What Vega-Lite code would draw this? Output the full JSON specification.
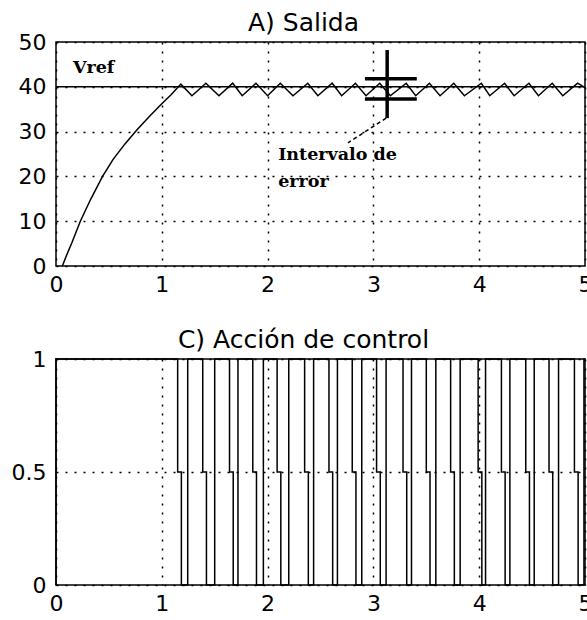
{
  "$schema": "https://vega.github.io/schema/vega-lite/v6.json",
  "background": "white",
  "padding": {"left": 0, "top": 10, "right": 0, "bottom": 0},
  "spacing": 31,
  "config": {
    "view": {"stroke": "black", "strokeWidth": 1.5},
    "axis": {"grid": true, "gridColor": "black", "gridDash": [2, 7], "gridWidth": 1.5, "gridOpacity": 1, "domain": false, "ticks": false, "labelFont": "DejaVu Sans", "labelFontSize": 22, "labelColor": "black", "title": null, "labelExpr": "'' + datum.value"},
    "axisY": {"labelPadding": 10, "minExtent": 55, "maxExtent": 55},
    "axisX": {"labelPadding": 8, "labelFlush": false},
    "title": {"font": "DejaVu Sans", "fontSize": 25, "fontWeight": "normal", "color": "black", "baseline": "alphabetic", "offset": -5, "dx": -17}
  },
  "datasets": {
    "curve": [
      {"t": 0.06, "v": 0}, {"t": 0.1, "v": 2.4}, {"t": 0.15, "v": 5.2}, {"t": 0.23, "v": 10}, {"t": 0.33, "v": 15},
      {"t": 0.44, "v": 20}, {"t": 0.54, "v": 23.8}, {"t": 0.65, "v": 27.2}, {"t": 0.77, "v": 30.5}, {"t": 0.88, "v": 33.3},
      {"t": 1.0, "v": 36.2}, {"t": 1.09, "v": 38.3}, {"t": 1.18, "v": 40.6},
      {"t": 1.285, "v": 38}, {"t": 1.417, "v": 40.8},
      {"t": 1.54, "v": 38}, {"t": 1.67, "v": 40.8},
      {"t": 1.76, "v": 38}, {"t": 1.89, "v": 40.8},
      {"t": 2.0, "v": 38}, {"t": 2.12, "v": 40.8},
      {"t": 2.24, "v": 38}, {"t": 2.38, "v": 40.8},
      {"t": 2.475, "v": 38}, {"t": 2.61, "v": 40.8},
      {"t": 2.7, "v": 38}, {"t": 2.83, "v": 40.8},
      {"t": 2.93, "v": 38}, {"t": 3.06, "v": 40.8},
      {"t": 3.16, "v": 38}, {"t": 3.31, "v": 40.8},
      {"t": 3.4, "v": 38}, {"t": 3.53, "v": 40.8},
      {"t": 3.63, "v": 38}, {"t": 3.76, "v": 40.8},
      {"t": 3.86, "v": 38}, {"t": 4.02, "v": 40.8},
      {"t": 4.1, "v": 38}, {"t": 4.24, "v": 40.8},
      {"t": 4.33, "v": 38}, {"t": 4.47, "v": 40.8},
      {"t": 4.56, "v": 38}, {"t": 4.69, "v": 40.8},
      {"t": 4.79, "v": 38}, {"t": 4.93, "v": 40.8},
      {"t": 5.0, "v": 39.8}
    ],
    "vref": [{"t": 0, "t2": 5, "v": 40}],
    "errbar": [
      {"t": 3.13, "t2": 3.13, "v": 33, "v2": 48.2},
      {"t": 2.92, "t2": 3.41, "v": 41.8, "v2": 41.8},
      {"t": 2.92, "t2": 3.41, "v": 37.3, "v2": 37.3}
    ],
    "leader": [{"t": 3.12, "t2": 2.76, "v": 33, "v2": 27.5}],
    "notes": [
      {"t": 0.16, "v": 43.1, "label": "Vref"},
      {"t": 2.1, "v": 23.7, "label": "Intervalo de"},
      {"t": 2.1, "v": 17.6, "label": "error"}
    ],
    "control": [
      {"i": 0, "t": 0, "u": 0}, {"i": 1, "t": 0, "u": 1}, {"i": 2, "t": 1.15, "u": 1}, {"i": 3, "t": 1.15, "u": 0.5}, {"i": 4, "t": 1.185, "u": 0.5}, {"i": 5, "t": 1.185, "u": 0},
      {"i": 6, "t": 1.245, "u": 0}, {"i": 7, "t": 1.245, "u": 1}, {"i": 8, "t": 1.387, "u": 1}, {"i": 9, "t": 1.387, "u": 0.5}, {"i": 10, "t": 1.422, "u": 0.5}, {"i": 11, "t": 1.422, "u": 0},
      {"i": 12, "t": 1.5, "u": 0}, {"i": 13, "t": 1.5, "u": 1}, {"i": 14, "t": 1.64, "u": 1}, {"i": 15, "t": 1.64, "u": 0.5}, {"i": 16, "t": 1.675, "u": 0.5}, {"i": 17, "t": 1.675, "u": 0},
      {"i": 18, "t": 1.72, "u": 0}, {"i": 19, "t": 1.72, "u": 1}, {"i": 20, "t": 1.86, "u": 1}, {"i": 21, "t": 1.86, "u": 0.5}, {"i": 22, "t": 1.895, "u": 0.5}, {"i": 23, "t": 1.895, "u": 0},
      {"i": 24, "t": 1.96, "u": 0}, {"i": 25, "t": 1.96, "u": 1}, {"i": 26, "t": 2.09, "u": 1}, {"i": 27, "t": 2.09, "u": 0.5}, {"i": 28, "t": 2.125, "u": 0.5}, {"i": 29, "t": 2.125, "u": 0},
      {"i": 30, "t": 2.2, "u": 0}, {"i": 31, "t": 2.2, "u": 1}, {"i": 32, "t": 2.35, "u": 1}, {"i": 33, "t": 2.35, "u": 0.5}, {"i": 34, "t": 2.385, "u": 0.5}, {"i": 35, "t": 2.385, "u": 0},
      {"i": 36, "t": 2.435, "u": 0}, {"i": 37, "t": 2.435, "u": 1}, {"i": 38, "t": 2.58, "u": 1}, {"i": 39, "t": 2.58, "u": 0.5}, {"i": 40, "t": 2.615, "u": 0.5}, {"i": 41, "t": 2.615, "u": 0},
      {"i": 42, "t": 2.66, "u": 0}, {"i": 43, "t": 2.66, "u": 1}, {"i": 44, "t": 2.8, "u": 1}, {"i": 45, "t": 2.8, "u": 0.5}, {"i": 46, "t": 2.835, "u": 0.5}, {"i": 47, "t": 2.835, "u": 0},
      {"i": 48, "t": 2.89, "u": 0}, {"i": 49, "t": 2.89, "u": 1}, {"i": 50, "t": 3.03, "u": 1}, {"i": 51, "t": 3.03, "u": 0.5}, {"i": 52, "t": 3.065, "u": 0.5}, {"i": 53, "t": 3.065, "u": 0},
      {"i": 54, "t": 3.12, "u": 0}, {"i": 55, "t": 3.12, "u": 1}, {"i": 56, "t": 3.28, "u": 1}, {"i": 57, "t": 3.28, "u": 0.5}, {"i": 58, "t": 3.315, "u": 0.5}, {"i": 59, "t": 3.315, "u": 0},
      {"i": 60, "t": 3.36, "u": 0}, {"i": 61, "t": 3.36, "u": 1}, {"i": 62, "t": 3.5, "u": 1}, {"i": 63, "t": 3.5, "u": 0.5}, {"i": 64, "t": 3.535, "u": 0.5}, {"i": 65, "t": 3.535, "u": 0},
      {"i": 66, "t": 3.59, "u": 0}, {"i": 67, "t": 3.59, "u": 1}, {"i": 68, "t": 3.73, "u": 1}, {"i": 69, "t": 3.73, "u": 0.5}, {"i": 70, "t": 3.765, "u": 0.5}, {"i": 71, "t": 3.765, "u": 0},
      {"i": 72, "t": 3.82, "u": 0}, {"i": 73, "t": 3.82, "u": 1}, {"i": 74, "t": 3.99, "u": 1}, {"i": 75, "t": 3.99, "u": 0.5}, {"i": 76, "t": 4.025, "u": 0.5}, {"i": 77, "t": 4.025, "u": 0},
      {"i": 78, "t": 4.06, "u": 0}, {"i": 79, "t": 4.06, "u": 1}, {"i": 80, "t": 4.21, "u": 1}, {"i": 81, "t": 4.21, "u": 0.5}, {"i": 82, "t": 4.245, "u": 0.5}, {"i": 83, "t": 4.245, "u": 0},
      {"i": 84, "t": 4.29, "u": 0}, {"i": 85, "t": 4.29, "u": 1}, {"i": 86, "t": 4.44, "u": 1}, {"i": 87, "t": 4.44, "u": 0.5}, {"i": 88, "t": 4.475, "u": 0.5}, {"i": 89, "t": 4.475, "u": 0},
      {"i": 90, "t": 4.52, "u": 0}, {"i": 91, "t": 4.52, "u": 1}, {"i": 92, "t": 4.66, "u": 1}, {"i": 93, "t": 4.66, "u": 0.5}, {"i": 94, "t": 4.695, "u": 0.5}, {"i": 95, "t": 4.695, "u": 0},
      {"i": 96, "t": 4.75, "u": 0}, {"i": 97, "t": 4.75, "u": 1}, {"i": 98, "t": 4.9, "u": 1}, {"i": 99, "t": 4.9, "u": 0.5}, {"i": 100, "t": 4.935, "u": 0.5}, {"i": 101, "t": 4.935, "u": 0},
      {"i": 102, "t": 4.99, "u": 0}, {"i": 103, "t": 4.99, "u": 1}, {"i": 104, "t": 5.0, "u": 1}
    ]
  },
  "vconcat": [
    {
      "title": "A) Salida",
      "width": 529,
      "height": 224,
      "layer": [
        {
          "data": {"name": "curve"},
          "mark": {"type": "line", "color": "black", "strokeWidth": 1.5},
          "encoding": {
            "x": {"field": "t", "type": "quantitative", "scale": {"domain": [0, 5], "nice": false}, "axis": {"values": [0, 1, 2, 3, 4, 5]}},
            "y": {"field": "v", "type": "quantitative", "scale": {"domain": [0, 50], "nice": false}, "axis": {"values": [0, 10, 20, 30, 40, 50]}}
          }
        },
        {
          "data": {"name": "vref"},
          "mark": {"type": "rule", "color": "black", "strokeWidth": 1.5},
          "encoding": {
            "x": {"field": "t", "type": "quantitative"},
            "x2": {"field": "t2"},
            "y": {"field": "v", "type": "quantitative"}
          }
        },
        {
          "data": {"name": "errbar"},
          "mark": {"type": "rule", "color": "black", "strokeWidth": 3.5},
          "encoding": {
            "x": {"field": "t", "type": "quantitative"},
            "x2": {"field": "t2"},
            "y": {"field": "v", "type": "quantitative"},
            "y2": {"field": "v2"}
          }
        },
        {
          "data": {"name": "leader"},
          "mark": {"type": "rule", "color": "black", "strokeWidth": 1.5, "strokeDash": [4, 3]},
          "encoding": {
            "x": {"field": "t", "type": "quantitative"},
            "x2": {"field": "t2"},
            "y": {"field": "v", "type": "quantitative"},
            "y2": {"field": "v2"}
          }
        },
        {
          "data": {"name": "notes"},
          "mark": {"type": "text", "font": "DejaVu Serif", "fontWeight": "bold", "fontSize": 17.5, "align": "left", "baseline": "alphabetic", "color": "black"},
          "encoding": {
            "x": {"field": "t", "type": "quantitative"},
            "y": {"field": "v", "type": "quantitative"},
            "text": {"field": "label"}
          }
        }
      ]
    },
    {
      "title": "C) Acción de control",
      "width": 529,
      "height": 226,
      "data": {"name": "control"},
      "mark": {"type": "line", "color": "black", "strokeWidth": 1.5},
      "encoding": {
        "x": {"field": "t", "type": "quantitative", "scale": {"domain": [0, 5], "nice": false}, "axis": {"values": [0, 1, 2, 3, 4, 5]}},
        "y": {"field": "u", "type": "quantitative", "scale": {"domain": [0, 1], "nice": false}, "axis": {"values": [0, 0.5, 1]}},
        "order": {"field": "i", "type": "quantitative"}
      }
    }
  ]
}
